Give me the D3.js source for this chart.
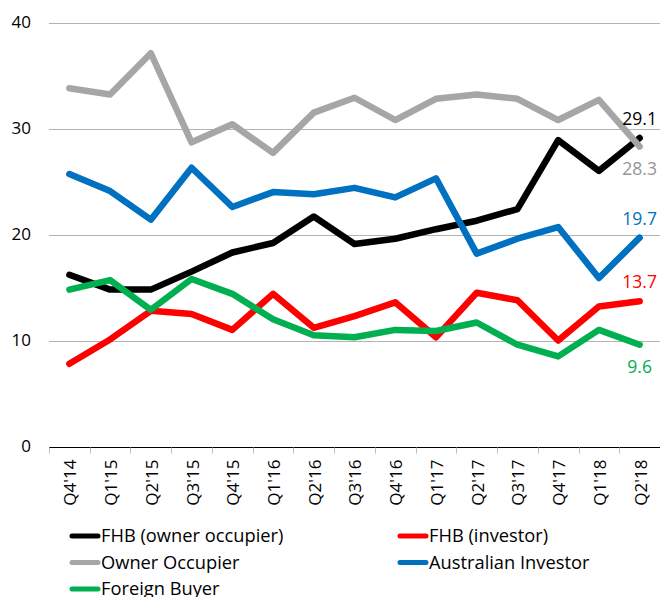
<!DOCTYPE html>
<html>
<head>
<meta charset="utf-8">
<script src="https://cdn.jsdelivr.net/npm/d3@7"></script>
<style>
	body { margin: 0; background: #fff; }
	text { font-family: "Open Sans", sans-serif; }
</style>
</head>
<body>
<svg id="chart" width="660" height="597"></svg>
<script>
const quarters = ["Q4'14", "Q1'15", "Q2'15", "Q3'15", "Q4'15", "Q1'16", "Q2'16", "Q3'16",
	"Q4'16", "Q1'17", "Q2'17", "Q3'17", "Q4'17", "Q1'18", "Q2'18"];

const fhb_owner = [16.2, 14.8, 14.8, 16.5, 18.3, 19.2, 21.7, 19.1, 19.6, 20.5, 21.3, 22.4, 28.9, 26.0, 29.1];
const fhb_investor = [7.8, 10.1, 12.8, 12.5, 11.0, 14.4, 11.2, 12.3, 13.6, 10.3, 14.5, 13.8, 10.0, 13.2, 13.7];
const owner_occupier = [33.8, 33.2, 37.1, 28.7, 30.4, 27.7, 31.5, 32.9, 30.8, 32.8, 33.2, 32.8, 30.8, 32.7, 28.3];
const aus_investor = [25.7, 24.1, 21.4, 26.3, 22.6, 24.0, 23.8, 24.4, 23.5, 25.3, 18.2, 19.6, 20.7, 15.9, 19.7];
const foreign_buyer = [14.8, 15.7, 12.9, 15.8, 14.4, 12.0, 10.5, 10.3, 11.0, 10.9, 11.7, 9.6, 8.5, 11.0, 9.6];

const y_ticks = [0, 10, 20, 30, 40];

const series = [
	{ name: "FHB (owner occupier)", values: fhb_owner, color: "#000000", label: "#000000", above: true },
	{ name: "FHB (investor)", values: fhb_investor, color: "#ff0000", label: "#ff0000", above: true },
	{ name: "Owner Occupier", values: owner_occupier, color: "#a6a6a6", label: "#969696", above: false },
	{ name: "Australian Investor", values: aus_investor, color: "#0070c0", label: "#0070c0", above: true },
	{ name: "Foreign Buyer", values: foreign_buyer, color: "#00b050", label: "#00b050", above: false }
];

const svg = d3.select('#chart');

const x = d3.scaleBand()
	.domain(quarters)
	.range([49, 660]);

const y = d3.scaleLinear()
	.domain([0, 40])
	.range([446.5, 22.5]);

const cx = q => x(q) + x.bandwidth() / 2;

// gridlines
svg.append('g')
	.selectAll('line')
	.data(y_ticks.filter(t => t > 0))
	.enter().append('line')
	.attr('x1', 49)
	.attr('x2', 660)
	.attr('y1', d => Math.round(y(d)) + 0.5)
	.attr('y2', d => Math.round(y(d)) + 0.5)
	.attr('stroke', '#b3b3b3')
	.attr('stroke-width', 1);

// y labels
svg.append('g')
	.selectAll('text')
	.data(y_ticks)
	.enter().append('text')
	.attr('x', 31)
	.attr('y', d => y(d))
	.attr('dy', '0.35em')
	.attr('text-anchor', 'end')
	.attr('font-size', 17)
	.attr('fill', '#000')
	.text(d => d);

// x axis
const xaxis = svg.append('g')
	.attr('transform', `translate(0, ${Math.round(y(0)) + 0.5})`);

xaxis.append('line')
	.attr('x1', 49)
	.attr('x2', 660)
	.attr('stroke', '#000');

xaxis.selectAll('line.tick')
	.data(quarters.concat(['end']))
	.enter().append('line')
	.attr('class', 'tick')
	.attr('x1', (d, i) => Math.round(49 + i * x.step()) + 0.5)
	.attr('x2', (d, i) => Math.round(49 + i * x.step()) + 0.5)
	.attr('y1', 0)
	.attr('y2', 6)
	.attr('stroke', '#bfbfbf');

xaxis.selectAll('text')
	.data(quarters)
	.enter().append('text')
	.attr('transform', d => `translate(${cx(d) + 1}, 12) rotate(-90)`)
	.attr('dy', '0.35em')
	.attr('text-anchor', 'end')
	.attr('font-size', 17)
	.attr('fill', '#000')
	.text(d => d);

// lines
const line = d3.line()
	.x((d, i) => cx(quarters[i]))
	.y(d => y(d));

svg.append('g')
	.selectAll('path')
	.data(series)
	.enter().append('path')
	.attr('d', s => line(s.values))
	.attr('fill', 'none')
	.attr('stroke', s => s.color)
	.attr('stroke-width', 6.5)
	.attr('stroke-linejoin', 'round')
	.attr('stroke-linecap', 'round');

// end labels
const last = quarters[quarters.length - 1];

svg.append('g')
	.selectAll('text')
	.data(series)
	.enter().append('text')
	.attr('x', cx(last))
	.attr('y', s => y(s.values[s.values.length - 1]) + (s.above ? -13 : 28))
	.attr('text-anchor', 'middle')
	.attr('font-size', 17.5)
	.attr('fill', s => s.label)
	.text(s => s.values[s.values.length - 1].toFixed(1));

// legend
const legend = svg.append('g')
	.selectAll('g')
	.data(series)
	.enter().append('g')
	.attr('transform', (s, i) => `translate(${i % 2 ? 398 : 70}, ${536 + Math.floor(i / 2) * 26.5})`);

legend.append('line')
	.attr('x1', 2)
	.attr('x2', 28)
	.attr('stroke', s => s.color)
	.attr('stroke-width', 5)
	.attr('stroke-linecap', 'round');

legend.append('text')
	.attr('x', 31)
	.attr('dy', '0.35em')
	.attr('font-size', 18.3)
	.attr('fill', '#000')
	.text(s => s.name);
</script>
</body>
</html>
